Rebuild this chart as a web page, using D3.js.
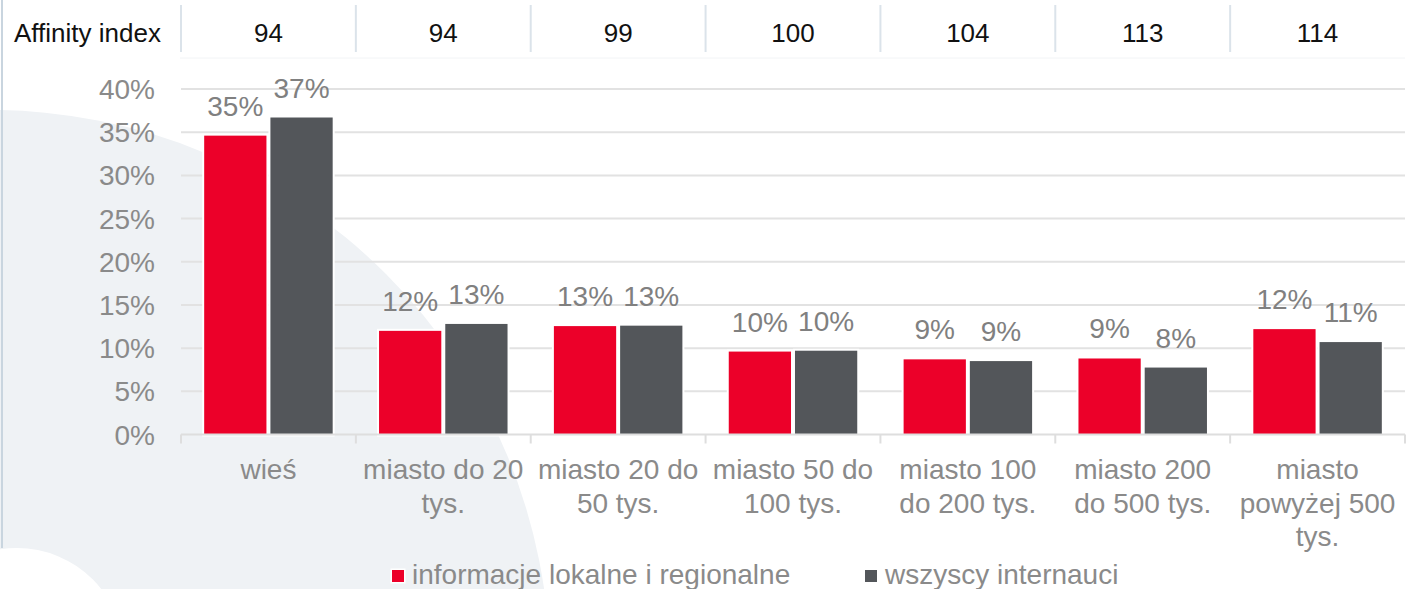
<!DOCTYPE html>
<html>
<head>
<meta charset="utf-8">
<script src="https://cdn.jsdelivr.net/npm/d3@7"></script>
<style>
  html, body { margin: 0; padding: 0; background: #ffffff; }
  svg { display: block; font-family: "Liberation Sans", Arial, sans-serif; }
</style>
</head>
<body>
<div id="chart"></div>
<script>
// Categories (wrapped label lines) and series
const categories = ["wieś", "miasto do 20 tys.", "miasto 20 do 50 tys.", "miasto 50 do 100 tys.",
    "miasto 100 do 200 tys.", "miasto 200 do 500 tys.", "miasto powyżej 500 tys."];
const categoryLines = [
    ["wieś"],
    ["miasto do 20", "tys."],
    ["miasto 20 do", "50 tys."],
    ["miasto 50 do", "100 tys."],
    ["miasto 100", "do 200 tys."],
    ["miasto 200", "do 500 tys."],
    ["miasto", "powyżej 500", "tys."]
];
const seriesNames = ["informacje lokalne i regionalne", "wszyscy internauci"];
const localNews = [34.6, 12.0, 12.55, 9.6, 8.7, 8.8, 12.2];
const allUsers = [36.7, 12.8, 12.6, 9.7, 8.5, 7.75, 10.7];
const affinityIndex = [94, 94, 99, 100, 104, 113, 114];
const yTicks = [0, 5, 10, 15, 20, 25, 30, 35, 40];

const width = 1412, height = 589;
const colors = ["#ec0029", "#53565a"];

const svg = d3.select("#chart").append("svg")
    .attr("width", width)
    .attr("height", height);

// Background decoration: light circle and white corner circle
svg.append("circle")
    .attr("cx", -10).attr("cy", 670).attr("r", 560)
    .attr("fill", "#eff2f5");
svg.append("circle")
    .attr("cx", 17).attr("cy", 655).attr("r", 107)
    .attr("fill", "#ffffff");
svg.append("line")
    .attr("x1", 2).attr("x2", 2).attr("y1", 0).attr("y2", 548)
    .attr("stroke", "#c9d5df").attr("stroke-width", 2);

// Scales
const x0 = d3.scaleBand()
    .domain(categories)
    .range([181, 1405])
    .padding(0);

const x1 = d3.scaleBand()
    .domain(seriesNames)
    .range([0, x0.bandwidth()])
    .paddingInner(0.06)
    .paddingOuter(0.35);

const y = d3.scaleLinear()
    .domain([0, 40])
    .range([434.5, 89]);

// Header row: Affinity index
const header = svg.append("g");
header.append("line")
    .attr("x1", 180).attr("x2", 1405).attr("y1", 58).attr("y2", 58)
    .attr("stroke", "#f2f4f6").attr("stroke-width", 1);
header.append("text")
    .attr("x", 14)
    .attr("y", 42)
    .attr("fill", "#111111")
    .style("font-size", "26px")
    .text("Affinity index");
header.selectAll(".sep")
    .data(categories)
    .enter()
    .append("line")
    .attr("class", "sep")
    .attr("x1", d => x0(d)).attr("x2", d => x0(d))
    .attr("y1", 5).attr("y2", 52)
    .attr("stroke", "#dbe3ea").attr("stroke-width", 2);
header.selectAll(".aff")
    .data(affinityIndex)
    .enter()
    .append("text")
    .attr("class", "aff")
    .attr("x", (d, i) => x0(categories[i]) + x0.bandwidth() / 2)
    .attr("y", 42)
    .attr("text-anchor", "middle")
    .attr("fill", "#111111")
    .style("font-size", "26px")
    .text(d => d);

// Gridlines
svg.append("g")
    .selectAll("line")
    .data(yTicks.filter(t => t > 0))
    .enter()
    .append("line")
    .attr("x1", 181).attr("x2", 1405)
    .attr("y1", d => y(d)).attr("y2", d => y(d))
    .attr("stroke", "#e2e2e2").attr("stroke-width", 2);

// Y axis labels
svg.append("g")
    .selectAll("text")
    .data(yTicks)
    .enter()
    .append("text")
    .attr("x", 155)
    .attr("y", d => y(d) + 10)
    .attr("text-anchor", "end")
    .attr("fill", "#8a8a8a")
    .style("font-size", "28px")
    .text(d => d + "%");

// Bars
const rows = categories.map((c, i) => ({ cat: c, values: [localNews[i], allUsers[i]] }));
const groups = svg.append("g")
    .selectAll("g")
    .data(rows)
    .enter()
    .append("g")
    .attr("transform", d => `translate(${x0(d.cat)},0)`);

groups.selectAll("rect")
    .data(d => d.values.map((v, j) => ({ series: seriesNames[j], value: v, j })))
    .enter()
    .append("rect")
    .attr("x", d => x1(d.series))
    .attr("y", d => y(d.value))
    .attr("width", x1.bandwidth())
    .attr("height", d => y(0) - y(d.value))
    .attr("fill", d => colors[d.j])
    .attr("stroke", "#ffffff")
    .attr("stroke-width", 4)
    .style("paint-order", "stroke");

// Data labels
groups.selectAll(".lbl")
    .data(d => d.values.map((v, j) => ({ series: seriesNames[j], value: v })))
    .enter()
    .append("text")
    .attr("class", "lbl")
    .attr("x", d => x1(d.series) + x1.bandwidth() / 2)
    .attr("y", d => y(d.value) - 20)
    .attr("text-anchor", "middle")
    .attr("fill", "#808080")
    .style("font-size", "28px")
    .text(d => Math.round(d.value) + "%");

// X axis line and ticks
const axis = svg.append("g");
axis.append("line")
    .attr("x1", 181).attr("x2", 1405)
    .attr("y1", y(0)).attr("y2", y(0))
    .attr("stroke", "#dedede").attr("stroke-width", 2);
axis.selectAll(".tick")
    .data(categories.map(c => x0(c)).concat([x0.range()[1]]))
    .enter()
    .append("line")
    .attr("class", "tick")
    .attr("x1", d => d).attr("x2", d => d)
    .attr("y1", y(0)).attr("y2", y(0) + 9)
    .attr("stroke", "#dedede").attr("stroke-width", 2);

// Category labels
svg.append("g")
    .selectAll("text")
    .data(categoryLines)
    .enter()
    .append("text")
    .attr("x", (d, i) => x0(categories[i]) + x0.bandwidth() / 2)
    .attr("y", 479)
    .attr("text-anchor", "middle")
    .attr("fill", "#8a8a8a")
    .style("font-size", "28px")
    .each(function(lines) {
        const t = d3.select(this);
        lines.forEach((line, k) => {
            t.append("tspan")
                .attr("x", t.attr("x"))
                .attr("dy", k === 0 ? 0 : 33.5)
                .text(line);
        });
    });

// Legend
const legendX = [392, 865];
const legend = svg.append("g");
legend.selectAll("rect")
    .data(seriesNames)
    .enter()
    .append("rect")
    .attr("x", (d, i) => legendX[i])
    .attr("y", 570)
    .attr("width", 12)
    .attr("height", 12)
    .attr("fill", (d, i) => colors[i])
    .attr("stroke", "#ffffff")
    .attr("stroke-width", 3)
    .style("paint-order", "stroke");
legend.selectAll("text")
    .data(seriesNames)
    .enter()
    .append("text")
    .attr("x", (d, i) => legendX[i] + 20)
    .attr("y", 584)
    .attr("fill", "#8a8a8a")
    .style("font-size", "28px")
    .text(d => d);
</script>
</body>
</html>
